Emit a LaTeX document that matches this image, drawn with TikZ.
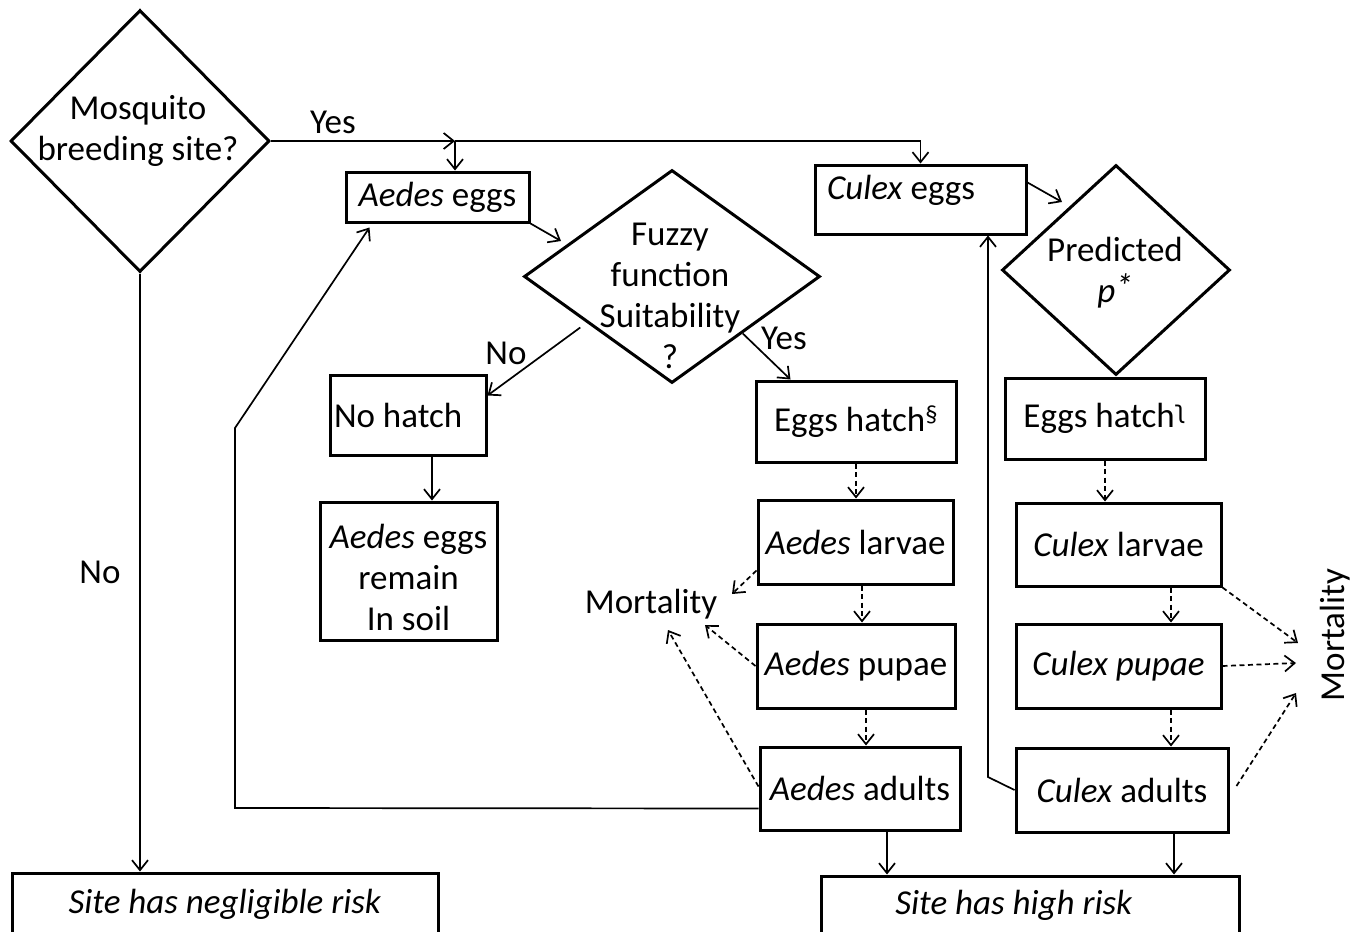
\documentclass[tikz,border=0pt]{standalone}
\usepackage{fontspec}
\setmainfont{Carlito}
\newfontfamily\djv{DejaVu Sans}
\usetikzlibrary{arrows.meta,shapes.geometric,calc}
\begin{document}
\begin{tikzpicture}[x=1pt,y=-1pt,
  every node/.style={font=\fontsize{35}{41}\selectfont},
  box/.style 2 args={draw, line width=3pt, minimum width=#1, minimum height=#2, inner sep=0pt, align=center},
  dia/.style 2 args={draw, diamond, line width=3pt, minimum width=#1, minimum height=#2, inner sep=0pt},
  txt/.style={inner sep=0pt, align=center},
  arr/.style={line width=1.7pt, -{Straight Barb[length=10pt,width=16pt]}},
  dsh/.style={arr, dash pattern=on 5pt off 3.5pt}]
\path[use as bounding box] (0,0) rectangle (1353,932);
\clip (0,0) rectangle (1353,932);
% diamonds
\node[dia={259pt}{262pt}] (d1) at (140,141) {};
\node[txt] (d1t) at (138,131) {Mosquito\\breeding site?};
\node[dia={296pt}{213pt}] (fz) at (672,276.5) {};
\node[txt] (fzt) at (670,296) {Fuzzy\\function\\Suitability\\?};
\node[dia={228pt}{210pt}] (pr) at (1116,270) {};
\node[txt] (prt) at (1115,273) {Predicted\\\textit{p\raisebox{4pt}{*}}};
% boxes
\node[box={183pt}{50pt}] (aeggs) at (437.5,197) {\textit{Aedes} eggs};
\node[box={211pt}{69pt}, text width=187pt, align=flush left, text depth=24pt] (ceggs) at (920.5,199.5) {\textit{Culex} eggs};
\node[box={156pt}{80pt}, text width=148pt, align=flush left] (nohatch) at (408,415) {No hatch};
\node[box={177pt}{138pt}] (remain) at (408.5,571) {\rule{0pt}{38pt}\textit{Aedes} eggs\\remain\\In soil};
\node[box={200pt}{81pt}] (hatchA) at (856,421.5) {Eggs hatch\textsuperscript{§}};
\node[box={200pt}{81pt}] (hatchC) at (1105,418.5) {Eggs hatch\textsuperscript{\djv ʅ}};
\node[box={195pt}{84pt}] (alarvae) at (855.5,542) {\textit{Aedes} larvae};
\node[box={198pt}{84pt}] (apupae) at (856,666) {\textit{Aedes} pupae};
\node[box={200pt}{83pt}] (aadults) at (860,788.5) {\textit{Aedes} adults};
\node[box={205pt}{83pt}] (clarvae) at (1118.5,544.5) {\textit{Culex} larvae};
\node[box={205pt}{84pt}] (cpupae) at (1118.5,666) {\textit{Culex pupae}};
\node[box={212pt}{84pt}] (cadults) at (1122,790) {\textit{Culex} adults};
\node[box={418pt}{58pt}] (high) at (1030,905) {\textit{Site has high risk}\hspace*{32pt}};
\node[box={426pt}{62pt}] (negl) at (225,904) {\textit{Site has negligible risk}};
% texts
\node[txt] (mortL) at (651,604) {Mortality};
\node[txt, rotate=90] (mortR) at (1335,635) {Mortality};
\node[txt] (yes1) at (333,122) {Yes};
\node[txt] (no1) at (100,572) {No};
\node[txt] (no2) at (506,353) {No};
\node[txt] (yes2) at (784,338) {Yes};
% connectors
\coordinate (j1) at (455,141);
\draw[arr] (d1.east) -- (j1);
\draw[arr] (j1) -| (ceggs.north);
\draw[arr] (j1) -- (j1 |- aeggs.north);
\draw[arr] (d1.south) -- (d1.south |- negl.north);
\coordinate (fzin) at (561,241);
\draw[arr] (aeggs.south east) -- (fzin);
\draw[arr] ([xshift=-17pt,yshift=3pt]fz.south west) -- ([yshift=-22pt]nohatch.north east);
\draw[arr] ([xshift=-4pt,yshift=-3pt]fz.south east) -- ([xshift=36pt]hatchA.north west);
\draw[arr] ([xshift=24pt]nohatch.south) -- ([xshift=24pt]nohatch.south |- remain.north);
\coordinate (prin) at (1062,202);
\draw[arr] ([yshift=17pt]ceggs.east) -- (prin);
% dashed stage arrows
\draw[dsh] (hatchA.south) -- (hatchA.south |- alarvae.north);
\draw[dsh] ([xshift=6.5pt]alarvae.south) -- ([xshift=6.5pt]alarvae.south |- apupae.north);
\draw[dsh] ([xshift=10pt]apupae.south) -- ([xshift=10pt]apupae.south |- aadults.north);
\draw[dsh] (hatchC.south) -- (hatchC.south |- clarvae.north);
\draw[dsh] ([xshift=52.5pt]clarvae.south) -- ([xshift=52.5pt]clarvae.south |- cpupae.north);
\draw[dsh] ([xshift=52.5pt]cpupae.south) -- ([xshift=52.5pt]cpupae.south |- cadults.north);
% mortality
\draw[dsh] ([yshift=15pt]alarvae.south west) -- ($(mortL)+(81,-10)$);
\draw[dsh] (apupae.west) -- ($(mortL)+(54,21)$);
\draw[dsh] ([yshift=2pt]aadults.west) -- ($(mortL)+(17,26)$);
\draw[dsh] (clarvae.south east) -- ($(mortR)+(-37,8)$);
\draw[dsh] (cpupae.east) -- ($(mortR)+(-39,28)$);
\draw[dsh] ([shift={(7pt,4pt)}]cadults.east) -- ($(mortR)+(-39,58)$);
% loops
\coordinate (lb) at (235,808);
\coordinate (lt) at (235,428);
\draw[arr] ([yshift=-20pt]aadults.west) -- (lb) -- (lt) -- ([shift={(25pt,-4pt)}]aeggs.south west);
\coordinate (cb) at (988,777);
\draw[arr] (cadults.west) -- (cb) -- (cb |- ceggs.south);
% to risk
\draw[arr] ([xshift=27pt]aadults.south) -- ([xshift=27pt]aadults.south |- high.north);
\draw[arr] ([xshift=52pt]cadults.south) -- ([xshift=52pt]cadults.south |- high.north);
\end{tikzpicture}
\end{document}
